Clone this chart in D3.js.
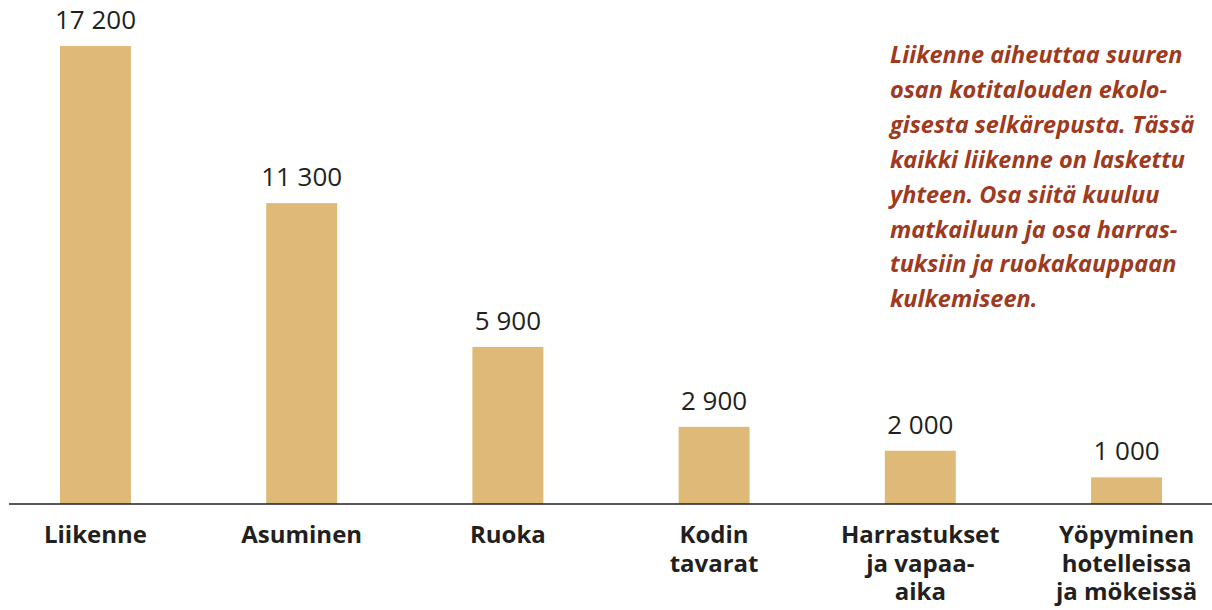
<!DOCTYPE html>
<html><head><meta charset="utf-8">
<script src="https://cdn.jsdelivr.net/npm/d3@7"></script>
<style>body{margin:0;background:#fff}svg{display:block}</style>
</head><body>
<svg id="chart" width="1212" height="610"></svg>
<script>
const categories = ["Liikenne","Asuminen","Ruoka","Kodin tavarat","Harrastukset ja vapaa-aika","Yöpyminen hotelleissa ja mökeissä"];
const categoryLines = [["Liikenne"],["Asuminen"],["Ruoka"],["Kodin","tavarat"],["Harrastukset","ja vapaa-","aika"],["Yöpyminen","hotelleissa","ja mökeissä"]];
const values = [17200, 11300, 5900, 2900, 2000, 1000];
const valueLabels = ["17 200","11 300","5 900","2 900","2 000","1 000"];
const noteLines = ["Liikenne aiheuttaa suuren","osan kotitalouden ekolo-","gisesta selkärepusta. Tässä","kaikki liikenne on laskettu","yhteen. Osa siitä kuuluu","matkailuun ja osa harras-","tuksiin ja ruokakauppaan","kulkemiseen."];

const svg = d3.select("#chart");
const baseY = 504;
const x = d3.scaleBand().domain(categories).range([9, 1213]).paddingInner(0.656).paddingOuter(0.2473);
const y = d3.scaleLinear().domain([0, 17200]).range([baseY, 46]);
const font = "'Open Sans', 'Noto Sans', sans-serif";

svg.selectAll("rect.bar").data(values).join("rect")
  .attr("class","bar")
  .attr("x",(d,i)=>x(categories[i]))
  .attr("y",d=>y(d))
  .attr("width",x.bandwidth())
  .attr("height",d=>baseY-y(d))
  .attr("fill","#dfb977");

svg.append("line").attr("x1",9).attr("x2",1212).attr("y1",baseY).attr("y2",baseY)
  .attr("stroke","#231f20").attr("stroke-width",1.5);

svg.selectAll("text.val").data(values).join("text")
  .attr("class","val")
  .attr("x",(d,i)=>x(categories[i])+x.bandwidth()/2)
  .attr("y",d=>y(d)-17)
  .attr("text-anchor","middle")
  .attr("font-family",font).attr("font-size",26).attr("fill","#231f20")
  .text((d,i)=>valueLabels[i]);

const cat = svg.selectAll("text.cat").data(categoryLines).join("text")
  .attr("class","cat")
  .attr("text-anchor","middle")
  .attr("font-family",font).attr("font-size",24).attr("font-weight","bold").attr("fill","#231f20");
cat.each(function(lines,i){
  const cx = x(categories[i])+x.bandwidth()/2;
  d3.select(this).selectAll("tspan").data(lines).join("tspan")
    .attr("x",cx).attr("y",(l,j)=>543+j*28.5).text(l=>l);
});

svg.append("text")
  .attr("font-family",font).attr("font-size",23.5).attr("font-weight","bold").attr("font-style","italic")
  .attr("fill","#9e3a1e")
  .selectAll("tspan").data(noteLines).join("tspan")
  .attr("x",890).attr("y",(l,j)=>63+j*34.9).text(l=>l);
</script>
</body></html>
